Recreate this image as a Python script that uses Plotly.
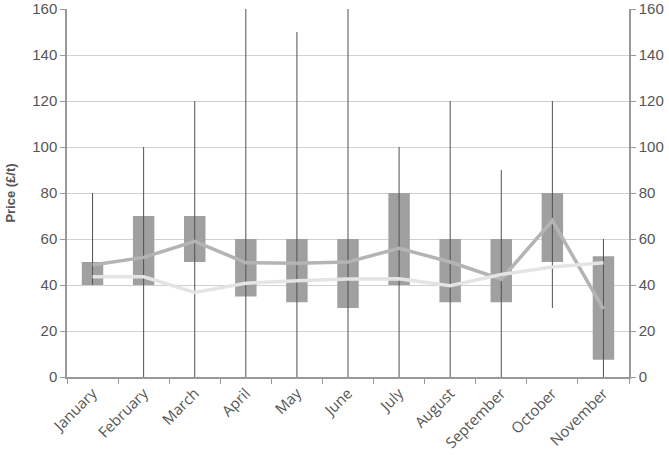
import plotly.graph_objects as go

months = ["January", "February", "March", "April", "May", "June", "July",
          "August", "September", "October", "November"]
whisker_min = [40, 0, 0, 0, 0, 0, 0, 0, 0, 30, 0]
whisker_max = [80, 100, 120, 160, 150, 160, 100, 120, 90, 120, 60]
box_low = [40, 40, 50, 35, 32.5, 30, 40, 32.5, 32.5, 50, 7.5]
box_high = [50, 70, 70, 60, 60, 60, 80, 60, 60, 80, 52.5]
series_dark = [48.7, 52, 59, 49.7, 49.5, 50, 56, 50, 42.5, 68, 29.5]
series_light = [43.6, 43.6, 36.8, 40.8, 41.9, 42.6, 42.7, 39.7, 44.6, 47.8, 49.7]

wx, wy = [], []
for m, lo, hi in zip(months, whisker_min, whisker_max):
    wx += [m, m, None]
    wy += [lo, hi, None]

fig = go.Figure()
fig.add_trace(go.Scatter(x=wx, y=wy, mode="lines",
                         line=dict(color="#505050", width=1),
                         hoverinfo="skip", showlegend=False))
fig.add_trace(go.Bar(x=months, y=[h - l for h, l in zip(box_high, box_low)],
                     base=box_low, width=0.42,
                     marker=dict(color="#a0a0a0", line=dict(width=0)),
                     showlegend=False))
fig.add_trace(go.Scatter(x=months, y=series_dark, mode="lines",
                         line=dict(color="#b4b4b4", width=3.5),
                         showlegend=False))
fig.add_trace(go.Scatter(x=months, y=series_light, mode="lines",
                         line=dict(color="#e4e4e4", width=3.5),
                         showlegend=False))
fig.add_trace(go.Scatter(x=months, y=series_light, mode="lines", yaxis="y2",
                         line=dict(width=0), opacity=0, hoverinfo="skip",
                         showlegend=False))

tickvals = [0, 20, 40, 60, 80, 100, 120, 140, 160]
fig.update_layout(
    width=669, height=455,
    margin=dict(l=67, r=40, t=9, b=78),
    plot_bgcolor="white", paper_bgcolor="white",
    font=dict(family="Liberation Sans, Arial", color="#555555"),
    xaxis=dict(type="category", showgrid=False, tickson="boundaries",
               ticks="outside", ticklen=5, tickcolor="#999999",
               showline=True, linecolor="#999999", linewidth=1.5,
               tickangle=-45, automargin=False,
               tickfont=dict(family="Open Sans", size=15, color="#555555"),
               range=[-0.5, 10.5]),
    yaxis=dict(range=[0, 160], tickvals=tickvals, showgrid=True,
               gridcolor="#d0d0d0", gridwidth=1, zeroline=False,
               ticks="outside", ticklen=5, tickcolor="#999999",
               showline=True, linecolor="#999999", linewidth=1.5,
               automargin=False,
               tickfont=dict(size=15, color="#555555"),
               title=dict(text="<b>Price (£/t)</b>", font=dict(size=13, color="#555555"),
                          standoff=14)),
    yaxis2=dict(range=[0, 160], tickvals=tickvals, overlaying="y", side="right",
                showgrid=False, zeroline=False, automargin=False,
                ticks="outside", ticklen=5, tickcolor="#999999",
                showline=True, linecolor="#999999", linewidth=1.5,
                tickfont=dict(size=15, color="#555555")),
)

fig.write_html("out.html", config={"displayModeBar": False},
               post_script="document.body.style.margin='0';")
